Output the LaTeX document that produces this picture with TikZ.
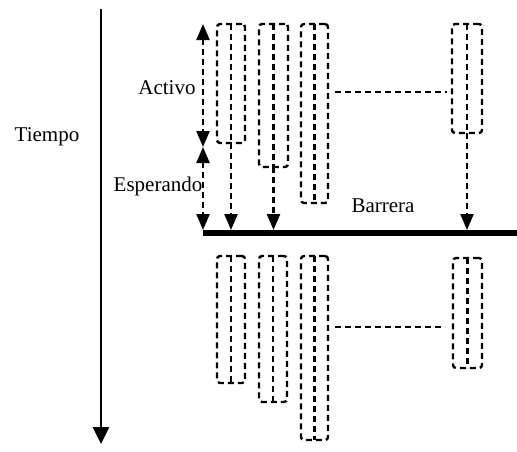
\documentclass[tikz,border=0pt]{standalone}
\usepackage{fontspec}
\setmainfont{Liberation Serif}
\usetikzlibrary{arrows.meta,calc}
\begin{document}
\begin{tikzpicture}[x=1pt,y=-1pt,
  dsh/.style={line width=2.4pt,dash pattern=on 6pt off 4pt},
  pbox/.style={dsh,draw,rectangle,rounded corners=3pt,inner sep=0pt,outer sep=0pt},
  tip/.style={-{Triangle[length=16pt,width=13pt]}},
  dtip/.style={{Triangle[length=16pt,width=13pt]}-{Triangle[length=16pt,width=13pt]}},
  lbl/.style={font=\fontsize{21}{25}\selectfont,inner sep=0pt}]
\useasboundingbox (0,0) rectangle (517,451);
% time axis
\coordinate (t0) at (101,9);
\coordinate (t1) at (101,444);
\draw[line width=2.6pt,-{Triangle[length=17pt,width=16pt]}] (t0) -- (t1);
\node[lbl] (tiempo) at (47,137) {Tiempo};
\node[lbl] (activo) at (167,88) {Activo};
\node[lbl] (esperando) at (158,186) {Esperando};
\node[lbl] (barrera) at (383,206) {Barrera};
% barrier
\coordinate (bl) at (203,233);
\coordinate (br) at (517,233);
\draw[line width=5.5pt] (bl) -- (br);
% activo / esperando arrows
\coordinate (a0) at (203,24);
\coordinate (a1) at (203,147);
\coordinate (a2) at (203,230);
\draw[dsh,dtip] (a0) -- (a1);
\draw[dsh,dtip] (a1) -- (a2);
% upper boxes
\node[pbox,minimum width=28pt,minimum height=119pt] (u1) at (231,83.5) {};
\node[pbox,minimum width=29pt,minimum height=143pt] (u2) at (273.5,95.5) {};
\node[pbox,minimum width=27pt,minimum height=179pt] (u3) at (314.5,113.5) {};
\node[pbox,minimum width=30pt,minimum height=109pt] (u4) at (467,78.5) {};
\foreach \b in {u1,u2,u3,u4} \draw[dsh] (\b.north) -- (\b.south);
\coordinate (hu) at (0,92);
\draw[dsh] ([xshift=7pt]u3.east |- hu) -- ([xshift=-5pt]u4.west |- hu);
% arrows to barrier
\coordinate (e1) at (231,230);
\coordinate (e2) at (273.5,230);
\coordinate (e4) at (467,230);
\draw[dsh,tip] (u1.south) -- (e1);
\draw[dsh,tip] (u2.south) -- (e2);
\draw[dsh,tip] (u4.south) -- (e4);
% lower boxes
\node[pbox,minimum width=28pt,minimum height=127pt] (l1) at (231,319.5) {};
\node[pbox,minimum width=28pt,minimum height=146pt] (l2) at (273,329) {};
\node[pbox,minimum width=27pt,minimum height=184pt] (l3) at (314.5,348) {};
\node[pbox,minimum width=29pt,minimum height=110pt] (l4) at (467.5,313) {};
\foreach \b in {l1,l2,l3,l4} \draw[dsh] (\b.north) -- (\b.south);
\coordinate (hl) at (0,327);
\draw[dsh] ([xshift=7pt]l3.east |- hl) -- ([xshift=-8pt]l4.west |- hl);
\end{tikzpicture}
\end{document}
